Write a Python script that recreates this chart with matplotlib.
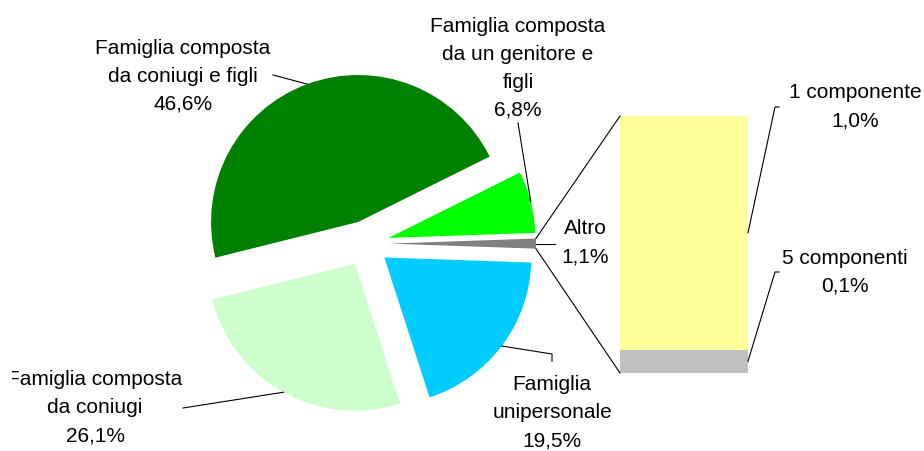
import numpy as np
import matplotlib
matplotlib.use('Agg')
import matplotlib.pyplot as plt
from matplotlib.transforms import Bbox, TransformedBbox

plt.rcParams['font.family'] = ['Liberation Sans', 'DejaVu Sans']

# pie data (Altro first so it sits on the right, facing the bar)
pie_labels = ['Altro', 'Famiglia composta\nda un genitore e\nfigli',
              'Famiglia composta\nda coniugi e figli', 'Famiglia composta\nda coniugi',
              'Famiglia\nunipersonale']
pie_values = [1.1, 6.8, 46.6, 26.1, 19.5]
pie_colors = ['#808080', '#00FF00', '#008000', '#CCFFCC', '#00CCFF']

# breakdown of "Altro"
bar_labels = ['5 componenti', '1 componente']
bar_values = [0.1, 1.0]
bar_colors = ['#C0C0C0', '#FFFF99']

W, H = 924, 452
fig = plt.figure(figsize=(W / 100, H / 100), dpi=100)
ax = fig.add_axes([0, 0, 1, 1])

# work in pixel-like units, y measured from the top
def py(y):
    return H - y

cx, cy, R = 366, 244.6, 147
gap = 23  # explode offset, same units as the radius
start = -pie_values[0] / sum(pie_values) * 360 / 2
wedges, _ = ax.pie(pie_values, colors=pie_colors, startangle=start, counterclock=True,
                   radius=R, center=(cx, py(cy)), explode=[gap] * len(pie_values),
                   wedgeprops=dict(linewidth=0), frame=True)

# stacked bar for "Altro"
bx, bw = 684, 128
bar_bottom, bar_top = 374, 117
scale = (bar_bottom - bar_top) / sum(bar_values)
bottom = py(bar_bottom)
bar_mid = []
for v, c in zip(bar_values, bar_colors):
    ax.bar(bx, v * scale, width=bw, bottom=bottom, color=c, linewidth=0)
    bar_mid.append(bottom + v * scale / 2)
    bottom += v * scale

ax.set_xlim(0, W)
ax.set_ylim(0, H)
ax.set_aspect('equal')
ax.axis('off')


def wedge_point(w, frac=0.5, rr=1.0):
    ang = np.deg2rad(w.theta1 + (w.theta2 - w.theta1) * frac)
    x0, y0 = w.center
    return x0 + w.r * rr * np.cos(ang), y0 + w.r * rr * np.sin(ang)


lk = dict(color='black', lw=0.8)

# connectors from "Altro" slice to the bar
g = wedges[0]
p_top = wedge_point(g, 1.0)
p_bot = wedge_point(g, 0.0)
ax.plot([p_top[0], bx - bw / 2], [p_top[1], py(bar_top)], **lk)
ax.plot([p_bot[0], bx - bw / 2], [p_bot[1], py(bar_bottom)], **lk)

fs = 15
ls = 1.6
tk = dict(fontsize=fs, ha='center', va='center', linespacing=ls)


def pct(v):
    return f'{v:.1f}'.replace('.', ',') + '%'


# leader lines + labels for the pie
p = wedge_point(wedges[0])
ax.plot([p[0], 555], [p[1], p[1]], **lk)
ax.text(585, py(243), f'{pie_labels[0]}\n{pct(pie_values[0])}', **tk)

p = wedge_point(wedges[1])
ax.plot([p[0], 518], [p[1], py(124)], **lk)
ax.text(518, py(68), f'{pie_labels[1]}\n{pct(pie_values[1])}', **tk)

p = wedge_point(wedges[2])
ax.plot([p[0], 273], [p[1], py(76)], **lk)
ax.text(183, py(76), f'{pie_labels[2]}\n{pct(pie_values[2])}', **tk)

p = wedge_point(wedges[3])
ax.plot([p[0], 183], [p[1], py(409)], **lk)
t = ax.text(95, py(408), f'{pie_labels[3]}\n{pct(pie_values[3])}', **tk)
t.set_clip_box(TransformedBbox(Bbox([[12, 0], [W, H]]), ax.transData))
t.set_clip_on(True)

p = wedge_point(wedges[4])
ax.plot([p[0], 552, 552], [p[1], py(355), py(362)], **lk)
ax.text(552, py(413), f'{pie_labels[4]}\n{pct(pie_values[4])}', **tk)

# labels for the bar
bar_text = [(845, 272, 273), (855, 107, 108)]
for (tx, ty, ly), m, lab, v in zip(bar_text, bar_mid, bar_labels, bar_values):
    ax.plot([bx + bw / 2, 775, 779], [m, py(ly), py(ly)], **lk)
    ax.text(tx, py(ty), f'{lab}\n{pct(v)}', **tk)

fig.savefig('out.png', dpi=100)
